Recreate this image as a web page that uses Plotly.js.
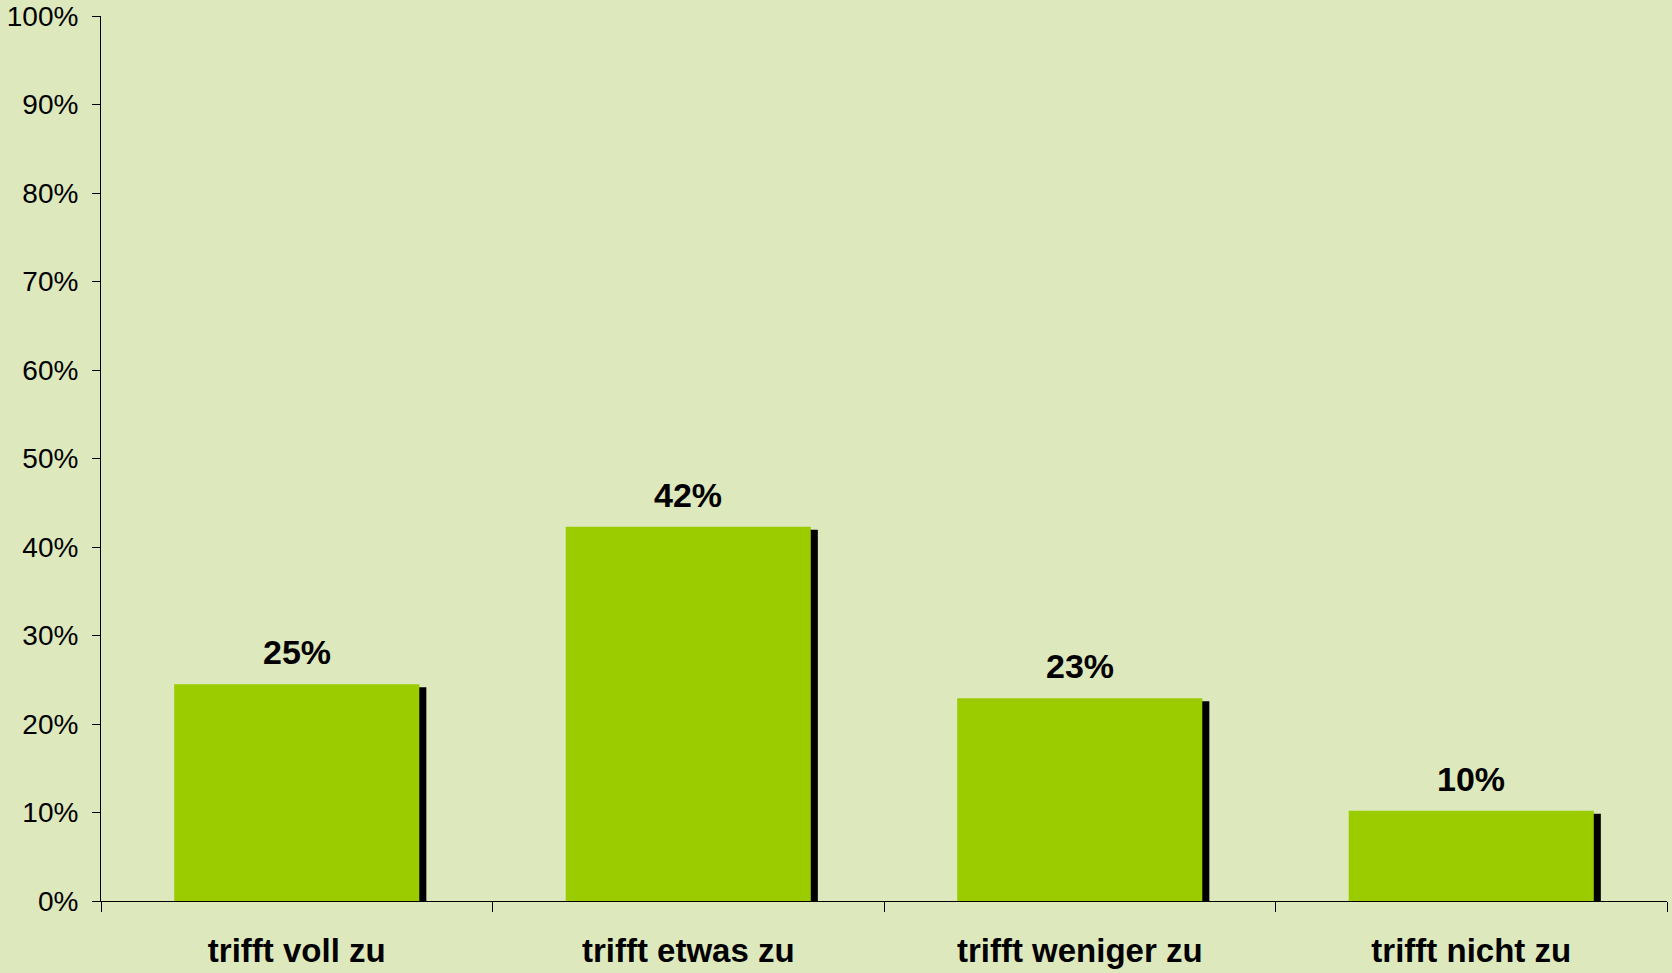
<!DOCTYPE html>
<html>
<head>
<meta charset="utf-8">
<script src="https://cdn.plot.ly/plotly-3.0.1.min.js"></script>
<style>html,body{margin:0;padding:0;background:#DDE8BD;}#chart{width:1672px;height:973px;}</style>
</head>
<body>
<div id="chart"></div>
<script>
const categories = ["trifft voll zu", "trifft etwas zu", "trifft weniger zu", "trifft nicht zu"];
const values = [24.5, 42.3, 22.9, 10.2];
const valueLabels = ["25%", "42%", "23%", "10%"];
const yTickValues = [0, 10, 20, 30, 40, 50, 60, 70, 80, 90, 100];

const BG = "#DDE8BD";
const GREEN = "#9ACC00";
const barWidth = 0.626;
const shadowDx = 0.018;   // shadow horizontal shift (category units)
const shadowDy = 0.34;    // shadow vertical drop (percent units)

const shadow = {
  type: "bar",
  x: categories,
  y: values.map(v => v - shadowDy),
  width: barWidth,
  offset: -barWidth / 2 + shadowDx,
  marker: {color: "#000000", line: {width: 0}},
  hoverinfo: "skip",
  showlegend: false
};
const bars = {
  type: "bar",
  x: categories,
  y: values,
  width: barWidth,
  offset: -barWidth / 2,
  marker: {color: GREEN, line: {width: 0}},
  showlegend: false
};

const annotations = categories.map((c, i) => ({
  x: c, y: values[i], xref: "x", yref: "y",
  text: "<b>" + valueLabels[i] + "</b>",
  showarrow: false, yanchor: "bottom", yshift: 11,
  font: {family: "Liberation Sans, Arial, sans-serif", size: 34, color: "#000"}
}));

const layout = {
  width: 1672, height: 973,
  paper_bgcolor: BG, plot_bgcolor: BG,
  margin: {l: 101, r: 5, t: 16, b: 72, pad: 0},
  barmode: "overlay",
  showlegend: false,
  xaxis: {
    type: "category",
    range: [-0.5, 3.5],
    tickson: "boundaries",
    ticks: "outside", ticklen: 10, tickwidth: 1, tickcolor: "#000",
    showline: true, linecolor: "#000", linewidth: 1,
    showgrid: false, zeroline: false,
    tickfont: {family: "Liberation Sans, Arial, sans-serif", size: 33, color: "#000", weight: "bold"},
    ticklabelstandoff: 20
  },
  yaxis: {
    range: [0, 100],
    tickvals: yTickValues,
    ticktext: yTickValues.map(v => v + "%"),
    ticks: "outside", ticklen: 8, tickwidth: 1, tickcolor: "#000",
    showline: true, linecolor: "#000", linewidth: 1,
    showgrid: false, zeroline: false,
    tickfont: {family: "Liberation Sans, Arial, sans-serif", size: 28, color: "#000"},
    ticklabelstandoff: 8
  },
  annotations: annotations
};

Plotly.newPlot("chart", [shadow, bars], layout, {displayModeBar: false, staticPlot: true});
</script>
</body>
</html>
